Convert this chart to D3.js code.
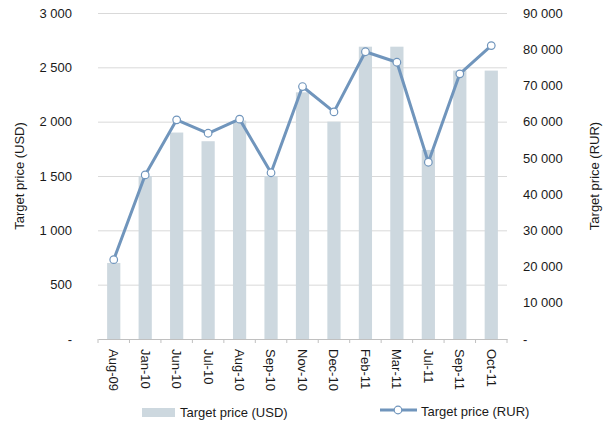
<!DOCTYPE html>
<html>
<head>
<meta charset="utf-8">
<script src="https://cdn.jsdelivr.net/npm/d3@7"></script>
<style>
  body { margin: 0; background: #fff; }
  text { font-family: "Liberation Sans", Arial, sans-serif; fill: #1a1a1a; }
</style>
</head>
<body>
<div id="chart"></div>
<script>
const categories = ['Aug-09', 'Jan-10', 'Jun-10', 'Jul-10', 'Aug-10', 'Sep-10', 'Nov-10',
  'Dec-10', 'Feb-11', 'Mar-11', 'Jul-11', 'Sep-11', 'Oct-11'];
const usdValues = [700, 1500, 1900, 1820, 2010, 1500, 2270, 2000, 2690, 2690, 1740, 2470, 2470];
const rurValues = [21900, 45300, 60500, 56800, 60700, 45900, 69700, 62700, 79300, 76400, 48800, 73200, 81000];
const usdTicks = [0, 500, 1000, 1500, 2000, 2500, 3000];
const rurTicks = [0, 10000, 20000, 30000, 40000, 50000, 60000, 70000, 80000, 90000];

const width = 604, height = 425;
const plotLeft = 98, plotRight = 507, plotTop = 13, plotBottom = 339;
const barColor = '#cdd8df', lineColor = '#7095bc', gridColor = '#d9d9d9';
const fontSize = '13px';

const svg = d3.select('#chart').append('svg')
  .attr('width', width)
  .attr('height', height);

const locale = d3.formatLocale({ decimal: ',', thousands: ' ', grouping: [3], currency: ['', ''] });
const fmt = v => v === 0 ? '-' : locale.format(',d')(v);

const x = d3.scaleBand().domain(categories).range([plotLeft, plotRight]).padding(0);
const yL = d3.scaleLinear().domain([0, 3000]).range([plotBottom, plotTop]);
const yR = d3.scaleLinear().domain([0, 90000]).range([plotBottom, plotTop]);

// gridlines
svg.append('g')
  .attr('transform', `translate(${plotLeft},0)`)
  .call(d3.axisLeft(yL).tickValues(usdTicks.slice(1)).tickSize(-(plotRight - plotLeft)).tickFormat(''))
  .call(g => g.select('.domain').remove())
  .call(g => g.selectAll('line').attr('stroke', gridColor));

// bars
const barW = x.bandwidth() * 0.42;
svg.append('g').selectAll('rect')
  .data(usdValues)
  .enter()
  .append('rect')
  .attr('x', (d, i) => x(categories[i]) + (x.bandwidth() - barW) / 2)
  .attr('y', d => yL(d))
  .attr('width', barW)
  .attr('height', d => plotBottom - yL(d))
  .attr('fill', barColor);

// x axis
const xAxis = svg.append('g')
  .attr('transform', `translate(0,${plotBottom})`)
  .call(d3.axisBottom(x).tickSize(0).tickFormat(''));
xAxis.select('.domain').attr('stroke', '#c0c0c0');
xAxis.selectAll('.sep')
  .data(d3.range(categories.length + 1))
  .enter()
  .append('line')
  .attr('class', 'sep')
  .attr('x1', i => plotLeft + i * x.step())
  .attr('x2', i => plotLeft + i * x.step())
  .attr('y1', 0)
  .attr('y2', 4)
  .attr('stroke', '#c0c0c0');

svg.append('g').selectAll('text')
  .data(categories)
  .enter()
  .append('text')
  .attr('transform', d => `translate(${x(d) + x.bandwidth() / 2},${plotBottom + 10}) rotate(90)`)
  .attr('dy', '0.35em')
  .style('font-size', fontSize)
  .text(d => d);

// left axis
svg.append('g')
  .attr('transform', `translate(${plotLeft},0)`)
  .call(d3.axisLeft(yL).tickValues(usdTicks).tickSize(0).tickPadding(26).tickFormat(fmt))
  .call(g => g.select('.domain').remove())
  .call(g => g.selectAll('text').style('font-size', fontSize).attr('fill', '#1a1a1a'));

// right axis
svg.append('g')
  .attr('transform', `translate(${plotRight},0)`)
  .call(d3.axisRight(yR).tickValues(rurTicks).tickSize(0).tickPadding(16).tickFormat(fmt))
  .call(g => g.select('.domain').remove())
  .call(g => g.selectAll('text').style('font-size', fontSize).attr('fill', '#1a1a1a'));

// line
const line = d3.line()
  .x((d, i) => x(categories[i]) + x.bandwidth() / 2)
  .y(d => yR(d));

svg.append('path')
  .datum(rurValues)
  .attr('d', line)
  .attr('fill', 'none')
  .attr('stroke', lineColor)
  .attr('stroke-width', 3)
  .attr('stroke-linejoin', 'round');

svg.append('g').selectAll('circle')
  .data(rurValues)
  .enter()
  .append('circle')
  .attr('cx', (d, i) => x(categories[i]) + x.bandwidth() / 2)
  .attr('cy', d => yR(d))
  .attr('r', 3.8)
  .attr('fill', '#fff')
  .attr('stroke', lineColor)
  .attr('stroke-width', 1.2);

// axis titles
svg.append('text')
  .attr('transform', `translate(19,${(plotTop + plotBottom) / 2}) rotate(-90)`)
  .attr('text-anchor', 'middle')
  .attr('dy', '0.35em')
  .style('font-size', fontSize)
  .text('Target price (USD)');

svg.append('text')
  .attr('transform', `translate(594,${(plotTop + plotBottom) / 2}) rotate(-90)`)
  .attr('text-anchor', 'middle')
  .attr('dy', '0.35em')
  .style('font-size', fontSize)
  .text('Target price (RUR)');

// legend
const legend = svg.append('g');
legend.append('rect')
  .attr('x', 142).attr('y', 408)
  .attr('width', 33).attr('height', 9)
  .attr('fill', barColor);
legend.append('text')
  .attr('x', 180).attr('y', 412)
  .attr('dy', '0.35em')
  .style('font-size', fontSize)
  .text('Target price (USD)');

legend.append('line')
  .attr('x1', 380).attr('x2', 417)
  .attr('y1', 410).attr('y2', 410)
  .attr('stroke', lineColor)
  .attr('stroke-width', 3);
legend.append('circle')
  .attr('cx', 398).attr('cy', 410).attr('r', 3.8)
  .attr('fill', '#fff')
  .attr('stroke', lineColor)
  .attr('stroke-width', 1.2);
legend.append('text')
  .attr('x', 421).attr('y', 411)
  .attr('dy', '0.35em')
  .style('font-size', fontSize)
  .text('Target price (RUR)');
</script>
</body>
</html>
